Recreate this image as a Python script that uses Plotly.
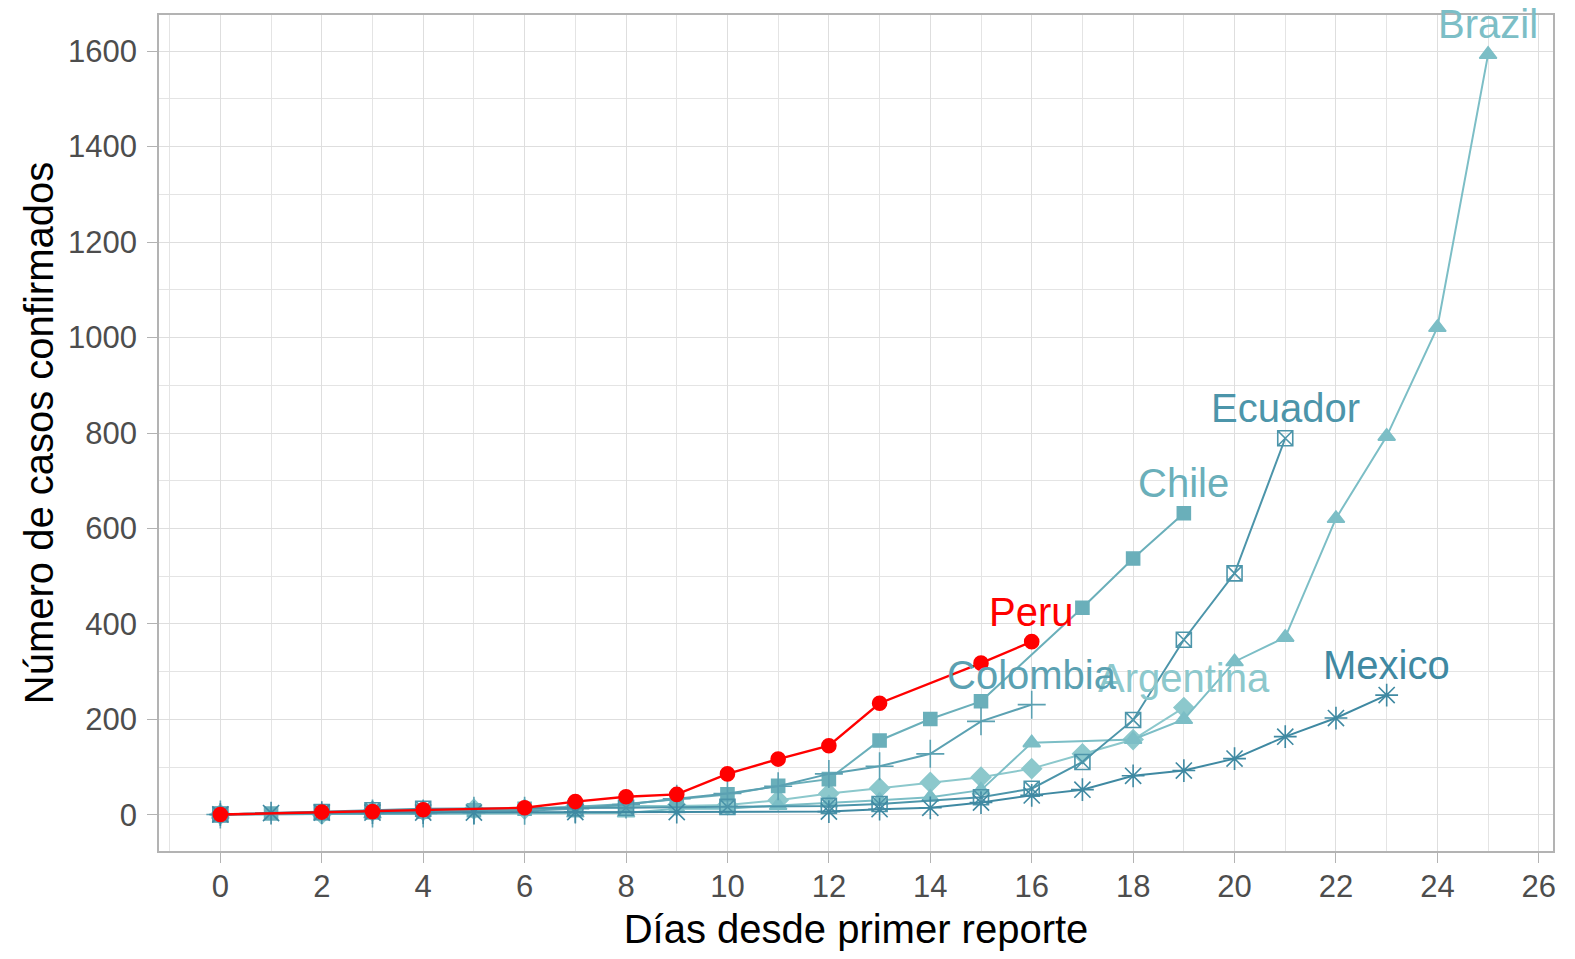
import plotly.graph_objects as go

# ---- data (days since first report, confirmed cases) ----
argentina_days = [0, 2, 3, 4, 5, 6, 7, 8, 9, 10, 11, 12, 13, 14, 15, 16, 17, 18, 19]
argentina_cases = [1, 2, 8, 9, 12, 12, 17, 19, 19, 21, 31, 45, 56, 68, 79, 97, 128, 158, 225]

brazil_days = [0, 3, 7, 8, 9, 10, 11, 12, 13, 14, 15, 16, 18, 19, 20, 21, 22, 23, 24, 25]
brazil_cases = [1, 2, 4, 4, 13, 13, 20, 25, 31, 37, 52, 151, 158, 200, 321, 372, 621, 793, 1021, 1593]

chile_days = [0, 1, 2, 3, 4, 5, 6, 7, 8, 9, 10, 11, 12, 13, 14, 15, 17, 18, 19]
chile_cases = [1, 3, 4, 5, 7, 10, 13, 17, 23, 33, 43, 61, 75, 156, 201, 238, 434, 537, 632]

colombia_days = [0, 3, 4, 5, 6, 7, 8, 9, 10, 11, 12, 13, 14, 15, 16]
colombia_cases = [1, 3, 3, 9, 9, 13, 22, 34, 45, 60, 86, 102, 128, 196, 231]

ecuador_days = [0, 2, 3, 4, 7, 8, 10, 12, 13, 15, 16, 17, 18, 19, 20, 21]
ecuador_cases = [1, 6, 10, 13, 14, 15, 17, 19, 23, 37, 55, 111, 199, 367, 506, 789]

mexico_days = [0, 1, 2, 3, 4, 5, 7, 9, 12, 13, 14, 15, 16, 17, 18, 19, 20, 21, 22, 23]
mexico_cases = [1, 4, 5, 5, 5, 5, 6, 6, 7, 12, 15, 26, 41, 53, 82, 93, 118, 164, 203, 251]

peru_days = [0, 2, 3, 4, 6, 7, 8, 9, 10, 11, 12, 13, 15, 16]
peru_cases = [1, 6, 7, 11, 15, 28, 38, 43, 86, 117, 145, 234, 318, 363]

countries = ["Argentina", "Brazil", "Chile", "Colombia", "Ecuador", "Mexico", "Peru"]
series_days = [argentina_days, brazil_days, chile_days, colombia_days, ecuador_days, mexico_days, peru_days]
series_cases = [argentina_cases, brazil_cases, chile_cases, colombia_cases, ecuador_cases, mexico_cases, peru_cases]

x_ticks = list(range(0, 27, 2))
y_ticks = list(range(0, 1601, 200))

# ---- styles ----
colors = {
    "Argentina": "#8CC8CC",
    "Brazil": "#7CBEC6",
    "Chile": "#6AAFBA",
    "Colombia": "#5BA1B2",
    "Ecuador": "#4C95AA",
    "Mexico": "#3F89A2",
    "Peru": "#FF0000",
}
symbols = {
    "Argentina": "diamond",
    "Brazil": "triangle-up",
    "Chile": "square",
    "Colombia": "cross-thin-open",
    "Ecuador": "square-x-open",
    "Mexico": "asterisk-open",
    "Peru": "circle",
}
sizes = {
    "Argentina": 15, "Brazil": 15, "Chile": 13, "Colombia": 20,
    "Ecuador": 15, "Mexico": 19, "Peru": 14,
}

FONT = "Liberation Sans, Arial, sans-serif"

fig = go.Figure()
for name, d, c in zip(countries, series_days, series_cases):
    col = colors[name]
    fig.add_trace(go.Scatter(
        x=d, y=c, mode="lines+markers", name=name,
        line=dict(color=col, width=2.4 if name == "Peru" else 2),
        marker=dict(symbol=symbols[name], size=sizes[name], color=col,
                    line=dict(color=col, width=1.6)),
        showlegend=False,
    ))
    fig.add_annotation(
        x=d[-1], y=c[-1], text=name, showarrow=False,
        xanchor="center", yanchor="middle", yshift=30,
        font=dict(family=FONT, size=40, color=col),
    )

axis_common = dict(
    showgrid=True, gridcolor="#DEDEDE", gridwidth=1.4,
    zeroline=False,
    showline=True, linecolor="#B3B3B3", linewidth=1.5, mirror=True,
    ticks="outside", ticklen=10, tickwidth=1.4, tickcolor="#B3B3B3",
    tickfont=dict(family=FONT, size=31, color="#4D4D4D"),
)

fig.update_xaxes(
    range=[-1.21, 26.28], tickvals=x_ticks,
    minor=dict(dtick=1, tick0=0, showgrid=True, gridcolor="#E4E4E4", gridwidth=0.8, ticks=""),
    title=dict(text="Días desde primer reporte", font=dict(family=FONT, size=40, color="#000000"), standoff=12),
    ticklabelstandoff=-3,
    **axis_common,
)
fig.update_yaxes(
    range=[-75.5, 1675.5], tickvals=y_ticks,
    minor=dict(dtick=100, tick0=0, showgrid=True, gridcolor="#E4E4E4", gridwidth=0.8, ticks=""),
    title=dict(text="Número de casos confirmados", font=dict(family=FONT, size=40, color="#000000"), standoff=2),
    ticklabelstandoff=4,
    **axis_common,
)

fig.update_layout(
    width=1575, height=959,
    margin=dict(l=151, r=30, t=5, b=116),
    paper_bgcolor="white", plot_bgcolor="white",
    font=dict(family=FONT),
)

fig.write_html("out.html")
